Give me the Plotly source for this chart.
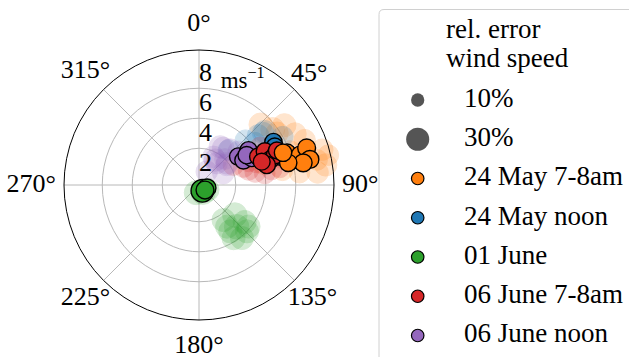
import numpy as np
import plotly.graph_objects as go

# ---- data: wind direction (deg, clockwise from north), speed (m/s), rel. error (%) ----
names = ["24 May 7-8am", "24 May noon", "01 June", "06 June 7-8am", "06 June noon"]
colors = ["#ff7f0e", "#1f77b4", "#2ca02c", "#d62728", "#9467bd"]

# all individual retrievals (drawn faint)
orange_dir = [53, 55, 62, 74, 81, 84, 83, 80, 72, 67, 77, 60, 65, 70, 78, 45.5, 56.4]
orange_spd = [5.7, 6.5, 6.8, 8.1, 8.1, 7.5, 6.3, 5.2, 4.0, 7.2, 8.4, 3.5, 5.0, 6.0, 7.6, 5.3, 5.8]
orange_err = [32, 30, 28, 26, 28, 26, 24, 24, 22, 26, 24, 22, 24, 28, 24, 30, 28]

blue_dir = [50, 51, 60, 53, 40, 65, 70, 51, 46]
blue_spd = [4.7, 5.2, 6.0, 4.2, 2.6, 4.8, 5.5, 5.05, 3.85]
blue_err = [26, 28, 24, 26, 24, 22, 22, 26, 24]

green_dir = [145, 130, 146, 138, 129, 134, 147, 141, 146, 130, 150, 200, 120]
green_spd = [2.4, 2.67, 2.9, 3.3, 3.47, 4.0, 3.78, 4.1, 3.28, 3.86, 0.1, 0.1, 0.2]
green_err = [30, 34, 30, 34, 30, 30, 30, 30, 30, 30, 34, 32, 30]

red_dir = [77, 80, 68, 60, 78, 69, 78, 58, 73, 65, 72]
red_spd = [3.4, 4.0, 2.75, 2.2, 5.06, 3.66, 4.5, 4.35, 3.0, 3.2, 5.3]
red_err = [24, 24, 24, 24, 22, 22, 24, 22, 24, 22, 22]

purple_dir = [29, 33, 54, 30, 41.5, 64, 33, 39, 45, 50, 27, 52]
purple_spd = [2.46, 1.53, 1.83, 0.58, 2.67, 1.35, 2.5, 1.42, 2.0, 3.0, 1.66, 1.9]
purple_err = [28, 28, 26, 26, 28, 26, 26, 26, 24, 26, 26, 26]

# selected retrievals (drawn opaque with edge)
orange_sel_dir = [70, 75, 73.5, 71, 77, 78, 76, 69]
orange_sel_spd = [5.8, 6.06, 6.58, 7.14, 7.14, 6.65, 5.68, 5.55]
orange_sel_err = [18, 18, 18, 18, 18, 18, 17, 17]

blue_sel_dir = [60, 67, 63, 71]
blue_sel_spd = [5.28, 5.28, 5.22, 5.27]
blue_sel_err = [17, 16, 16, 15]

green_sel_dir = [150, 110, 130]
green_sel_spd = [0.0, 0.12, 0.07]
green_sel_err = [29, 18, 18]

red_sel_dir = [64.5, 63, 70.6, 68.5, 73.5, 66, 69.6]
red_sel_spd = [3.93, 4.48, 4.57, 5.0, 4.26, 5.23, 4.01]
red_sel_err = [17, 17, 17, 17, 17, 16, 16]

purple_sel_dir = [54, 61, 55, 63, 58]
purple_sel_spd = [2.78, 2.94, 3.58, 3.49, 3.3]
purple_sel_err = [17, 17, 17, 16, 17]

radial_ticks = [2, 4, 6, 8]
angle_ticks = [0, 45, 90, 135, 180, 225, 270, 315]
size_legend_err = [10, 30]

FONT = "Liberation Serif"
W, H = 629, 357
cx, cy, rad = 199.0, 185.0, 135.0          # polar centre and radius (px)
r_min, r_max = -0.45, 8.55
lab_rad = 172.0                            # radius of the overlay used for rim labels
lx, ltop = 379.0, 9.5                      # legend frame corner (px)


def marker_diameter(err):
    # marker area proportional to relative error
    return 13.3 * np.sqrt(np.asarray(err, dtype=float) / 10.0)


faint = [
    (orange_dir, orange_spd, orange_err),
    (blue_dir, blue_spd, blue_err),
    (green_dir, green_spd, green_err),
    (red_dir, red_spd, red_err),
    (purple_dir, purple_spd, purple_err),
]
selected = [
    (orange_sel_dir, orange_sel_spd, orange_sel_err),
    (blue_sel_dir, blue_sel_spd, blue_sel_err),
    (green_sel_dir, green_sel_spd, green_sel_err),
    (red_sel_dir, red_sel_spd, red_sel_err),
    (purple_sel_dir, purple_sel_spd, purple_sel_err),
]

fig = go.Figure()

for (d, s, e), c in zip(faint, colors):
    fig.add_trace(go.Scatterpolar(
        theta=d, r=s, mode="markers",
        marker=dict(size=marker_diameter(e), color=c, opacity=0.2,
                    line=dict(width=1, color=c)),
        showlegend=False, hoverinfo="skip"))

draw_order = [4, 1, 3, 0, 2]
for i in draw_order:
    d, s, e = selected[i]
    fig.add_trace(go.Scatterpolar(
        theta=d, r=s, mode="markers",
        marker=dict(size=marker_diameter(e), color=colors[i], opacity=1,
                    line=dict(width=1.4, color="black")),
        showlegend=False, hoverinfo="skip"))

# radial tick labels sit just inside their ring, right of the 0 deg spoke
fig.add_trace(go.Scatterpolar(
    theta=[0] * len(radial_ticks), r=[t - 1.05 for t in radial_ticks],
    mode="text", text=[str(t) for t in radial_ticks],
    textposition="middle right",
    textfont=dict(family=FONT, size=26, color="black"),
    showlegend=False, hoverinfo="skip", cliponaxis=False))
fig.add_trace(go.Scatterpolar(
    theta=[23.0], r=[7.0], mode="text", text=["ms<sup>\u22121</sup>"],
    textposition="middle center",
    textfont=dict(family=FONT, size=23, color="black"),
    showlegend=False, hoverinfo="skip", cliponaxis=False))

# angular tick labels: centred outside the rim, pushed out by half their extent
ang_text = [f"{a}\u00b0" for a in angle_ticks]
ang_r = []
for a, t in zip(angle_ticks, ang_text):
    half_w = (13.0 * (len(t) - 1) + 10.4) / 2.0
    half_h = 18.0
    ext = max(abs(np.sin(np.radians(a))) * half_w,
              abs(np.cos(np.radians(a))) * half_h)
    ang_r.append(rad + 8.0 + ext)          # in px on the overlay polar
fig.add_trace(go.Scatterpolar(
    theta=angle_ticks, r=ang_r, mode="text", text=ang_text,
    textposition="middle center", subplot="polar2",
    textfont=dict(family=FONT, size=26, color="black"),
    showlegend=False, hoverinfo="skip", cliponaxis=False))

# ---- hand-built legend in a hidden cartesian panel ----
legend_rows = list(range(2 + len(names)))
mk_x, txt_x = 38.7, 85.0
fig.add_trace(go.Scatter(
    x=[mk_x] * 2, y=legend_rows[:2], mode="markers",
    marker=dict(size=marker_diameter(size_legend_err), color="#555555",
                opacity=1, line=dict(width=0)),
    xaxis="x2", yaxis="y2", showlegend=False, hoverinfo="skip"))
fig.add_trace(go.Scatter(
    x=[mk_x] * len(names), y=legend_rows[2:], mode="markers",
    marker=dict(size=12.5, color=colors, opacity=1,
                line=dict(width=1.2, color="black")),
    xaxis="x2", yaxis="y2", showlegend=False, hoverinfo="skip"))
fig.add_trace(go.Scatter(
    x=[txt_x] * len(legend_rows), y=legend_rows, mode="text",
    text=[f"{v}%" for v in size_legend_err] + names,
    textposition="middle right",
    textfont=dict(family=FONT, size=27, color="black"),
    xaxis="x2", yaxis="y2", showlegend=False, hoverinfo="skip",
    cliponaxis=False))
fig.add_trace(go.Scatter(
    x=[67.0, 67.0], y=[-1.74, -1.02], mode="text",
    text=["rel. error", "wind speed"], textposition="middle right",
    textfont=dict(family=FONT, size=27, color="black"),
    xaxis="x2", yaxis="y2", showlegend=False, hoverinfo="skip",
    cliponaxis=False))

hidden_axis = dict(showgrid=False, showline=False, showticklabels=False,
                   ticks="")

fig.update_layout(
    width=W, height=H,
    margin=dict(l=0, r=0, t=0, b=0),
    paper_bgcolor="white", plot_bgcolor="white",
    showlegend=False,
    polar=dict(
        domain=dict(x=[(cx - rad) / W, (cx + rad) / W],
                    y=[(H - cy - rad) / H, (H - cy + rad) / H]),
        bgcolor="white",
        angularaxis=dict(
            rotation=90, direction="clockwise",
            tickmode="array", tickvals=angle_ticks, showticklabels=False,
            showline=True, linecolor="black", linewidth=1,
            gridcolor="#b8b8b8", gridwidth=1, ticks=""),
        radialaxis=dict(
            range=[r_min, r_max], tickvals=radial_ticks[:3],
            showticklabels=False, showline=False, ticks="",
            gridcolor="#b8b8b8", gridwidth=1, angle=90),
    ),
    polar2=dict(
        domain=dict(x=[(cx - lab_rad) / W, (cx + lab_rad) / W],
                    y=[(H - cy - lab_rad) / H, (H - cy + lab_rad) / H]),
        bgcolor="rgba(0,0,0,0)",
        angularaxis=dict(rotation=90, direction="clockwise", **hidden_axis),
        radialaxis=dict(range=[0, lab_rad], **hidden_axis),
    ),
    xaxis2=dict(domain=[lx / W, 1.0], range=[0, W - lx], visible=False,
                fixedrange=True),
    yaxis2=dict(domain=[0, 1], range=[(H - 100) / 39.25, -100 / 39.25],
                visible=False, fixedrange=True, anchor="x2"),
    shapes=[dict(
        type="path", xref="paper", yref="paper",
        path=(f"M {lx / W},-0.1 L {lx / W},{1 - (ltop + 5) / H} "
              f"Q {lx / W},{1 - ltop / H} {(lx + 5) / W},{1 - ltop / H} "
              f"L 1.1,{1 - ltop / H}"),
        line=dict(color="#d0d0d0", width=1),
        fillcolor="rgba(0,0,0,0)")],
)

fig.write_html("out.html")
